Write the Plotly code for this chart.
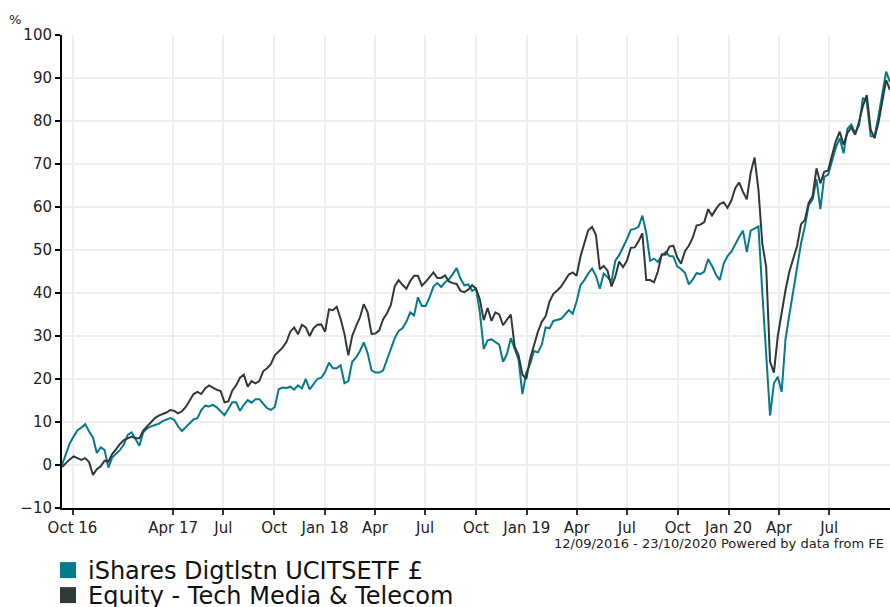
import pandas as pd
import plotly.graph_objects as go

# Weekly cumulative performance (%)
ishares = [
    0.0, 2.7, 5.0, 6.6, 8.1, 8.7, 9.5, 7.8, 6.4, 2.8,
    4.1, 3.5, -0.6, 1.8, 2.6, 3.5, 4.8, 7.0, 7.6, 6.0,
    4.5, 7.6, 8.5, 9.0, 9.3, 9.6, 10.2, 10.6, 10.9, 10.5,
    9.0, 7.9, 8.8, 9.8, 10.6, 10.9, 12.8, 13.8, 13.6, 14.0,
    13.4, 12.5, 11.6, 13.0, 14.6, 14.6, 12.6, 14.0, 15.1, 14.5,
    15.3, 15.3, 14.3, 13.2, 12.8, 13.5, 17.6, 18.0, 17.9, 18.2,
    17.5, 18.5, 17.8, 20.0, 17.6, 18.8, 20.0, 20.3, 21.6, 23.8,
    22.5, 22.5, 23.2, 19.0, 19.5, 24.0, 25.0, 26.5, 28.5, 26.0,
    22.0, 21.5, 21.5, 22.0, 24.5, 27.1, 29.5, 31.2, 31.8, 33.3,
    35.5, 34.8, 39.0, 37.0, 37.0, 39.0, 41.5, 42.3, 41.4, 42.5,
    43.2, 44.4, 45.8, 43.3, 41.8, 42.0, 40.5, 41.0, 35.5, 27.0,
    29.0, 29.2, 28.5, 28.0, 24.0, 25.8, 29.5, 27.0, 24.5, 16.5,
    21.5, 23.5, 26.5, 26.2, 28.0, 32.0, 31.8, 33.5, 33.8, 34.0,
    35.0, 36.0, 35.2, 38.0, 41.8, 43.0, 44.5, 45.7, 44.0, 41.0,
    44.5, 43.7, 42.6, 47.5, 48.8, 50.5, 52.5, 54.7, 54.9, 55.4,
    58.0, 54.0, 47.5, 48.0, 47.2, 48.7, 49.5, 48.6, 48.5, 46.2,
    45.6, 44.7, 42.0, 43.1, 44.6, 44.4, 45.0, 47.9, 46.3, 44.3,
    43.0, 46.8, 48.6, 49.6, 51.4, 53.0, 54.5, 49.5, 54.5, 55.0,
    55.5, 40.0, 25.0, 11.5, 19.0, 20.5, 17.0, 29.3, 35.0, 40.5,
    46.0, 51.5, 55.5, 60.5, 61.8, 66.5, 59.5, 67.0, 67.5, 70.5,
    73.8, 76.0, 72.5, 78.2, 79.2, 77.2, 79.0, 85.4, 84.5, 76.5,
    76.4, 81.0, 86.4, 91.5, 89.0,
]

sector = [
    -0.5, 0.5, 1.3, 2.0, 1.6, 1.2, 1.6, 0.7, -2.3, -1.0,
    -0.3, 1.0, 0.8, 2.6, 3.7, 4.9, 5.8, 6.2, 6.6, 6.2,
    6.2, 8.0, 8.9, 10.0, 10.9, 11.5, 11.8, 12.2, 12.8, 12.6,
    12.0, 12.5, 13.5, 15.0, 16.5, 17.0, 16.5, 17.8, 18.5, 18.0,
    17.5, 17.2, 14.6, 14.8, 17.3, 18.5, 20.3, 21.0, 18.2, 19.5,
    19.0, 19.5, 21.8, 22.5, 23.5, 25.5, 26.5, 27.3, 28.6, 31.0,
    32.0, 30.4, 32.6, 32.0, 30.0, 31.8, 32.6, 32.7, 31.0, 36.2,
    36.0, 36.8, 34.0, 30.5, 25.5, 30.0, 32.3, 34.3, 37.4, 35.5,
    30.5, 30.6, 31.3, 33.9, 35.3, 37.2, 41.6, 43.0, 41.9, 41.0,
    42.8, 44.0, 44.0, 41.7, 42.6, 43.6, 44.8, 43.5, 43.5, 44.1,
    42.7, 42.3, 42.1, 40.5, 40.2, 40.8, 41.8, 41.0, 38.5, 33.7,
    36.5, 33.5, 35.5, 35.0, 32.5, 33.8, 35.0, 27.5, 25.5, 21.0,
    20.0, 24.8, 28.0, 31.0, 33.3, 34.6, 38.0, 39.8, 40.6, 41.5,
    42.9, 44.3, 44.8, 44.0, 48.5, 51.5, 54.6, 55.4, 53.5, 45.5,
    46.3, 45.2, 41.5, 43.8, 47.3, 46.0, 47.5, 50.5, 50.6, 52.0,
    53.9, 43.0, 43.0, 42.5, 45.0, 49.0, 48.9, 50.8, 51.0, 48.3,
    46.8, 49.7, 51.0, 52.8, 55.7, 55.9, 56.5, 59.5, 58.0, 59.5,
    60.7, 61.1, 59.8, 61.5, 64.4, 65.7, 63.5, 61.8, 68.0, 71.5,
    64.0, 51.5, 46.0, 24.0, 21.5, 30.0, 35.5, 40.7, 45.0, 48.3,
    51.0, 56.0, 57.0, 61.0, 62.5, 69.0, 65.5, 68.2, 68.5, 72.0,
    75.3, 77.5, 74.5, 77.2, 78.5, 76.8, 79.8, 83.5, 86.0, 78.0,
    76.0, 79.5, 84.9, 89.5, 87.2,
]

series_names = ["iShares Digtlstn UCITSETF £", "Equity - Tech Media & Telecom"]
series_colors = ["#057a8b", "#2f3a37"]

tick_dates = ["2016-10-01", "2017-04-01", "2017-07-01", "2017-10-01", "2018-01-01",
              "2018-04-01", "2018-07-01", "2018-10-01", "2019-01-01", "2019-04-01",
              "2019-07-01", "2019-10-01", "2020-01-01", "2020-04-01", "2020-07-01"]
tick_labels = ["Oct 16", "Apr 17", "Jul", "Oct", "Jan 18", "Apr", "Jul", "Oct",
               "Jan 19", "Apr", "Jul", "Oct", "Jan 20", "Apr", "Jul"]

start_date = "2016-09-12"
end_date = "2020-10-19"
footer = "12/09/2016 - 23/10/2020 Powered by data from FE"

dates = pd.date_range(start_date, periods=len(ishares), freq="7D")

FONT = "DejaVu Sans"
W, H = 890, 607

fig = go.Figure()

for vals, name, col in [(ishares, series_names[0], series_colors[0]),
                        (sector, series_names[1], series_colors[1])]:
    fig.add_trace(go.Scatter(x=dates, y=vals, mode="lines", name=name,
                             line=dict(color=col, width=2), showlegend=False,
                             hoverinfo="skip"))

# legend-only square swatches, one legend each so they can sit close together
for (name, col, lg) in zip(series_names, series_colors, ["legend", "legend2"]):
    fig.add_trace(go.Scatter(x=[None], y=[None], mode="markers", name=name,
                             marker=dict(symbol="square", size=16, color=col),
                             showlegend=True, legend=lg))

legend_common = dict(orientation="v", xref="container", yref="container",
                     x=48 / W, xanchor="left", yanchor="top",
                     font=dict(family=FONT, size=24, color="#111111"),
                     bgcolor="rgba(0,0,0,0)", itemclick=False)

fig.update_layout(
    width=W, height=H,
    margin=dict(l=62, r=0, t=35, b=99, autoexpand=False),
    paper_bgcolor="white", plot_bgcolor="white",
    font=dict(family=FONT, size=15, color="#222222"),
    showlegend=True,
    legend=dict(legend_common, y=1 - 548 / H),
    legend2=dict(legend_common, y=1 - 573 / H),
    xaxis=dict(
        type="date", range=[start_date, end_date],
        tickmode="array", tickvals=tick_dates, ticktext=tick_labels,
        showgrid=True, gridcolor="#eeeeee", gridwidth=2,
        showline=True, linecolor="#000000", linewidth=2,
        ticks="outside", ticklen=5, tickwidth=2, tickcolor="#333333",
        tickfont=dict(size=15), zeroline=False, tickangle=0,
        automargin=False,
    ),
    yaxis=dict(
        range=[-10, 100], dtick=10, tick0=0,
        showgrid=True, gridcolor="#eeeeee", gridwidth=2,
        showline=True, linecolor="#000000", linewidth=2,
        ticks="outside", ticklen=5, tickwidth=2, tickcolor="#000000",
        tickfont=dict(size=15), zeroline=False, automargin=False,
    ),
    annotations=[
        dict(text="%", xref="paper", yref="paper", x=-0.057, y=1.032,
             showarrow=False, xanchor="center", yanchor="middle",
             font=dict(size=13, family=FONT, color="#222222")),
        dict(text=footer, xref="paper", yref="paper", x=0.995, y=-0.074,
             showarrow=False, xanchor="right", yanchor="middle",
             font=dict(size=13, family=FONT, color="#222222")),
    ],
)

# remove the default 8px page margin so the figure fills the window exactly
fig.write_html("out.html",
               config={"displayModeBar": False},
               post_script="document.body.style.margin='0';"
                           "document.body.style.overflow='hidden';")
